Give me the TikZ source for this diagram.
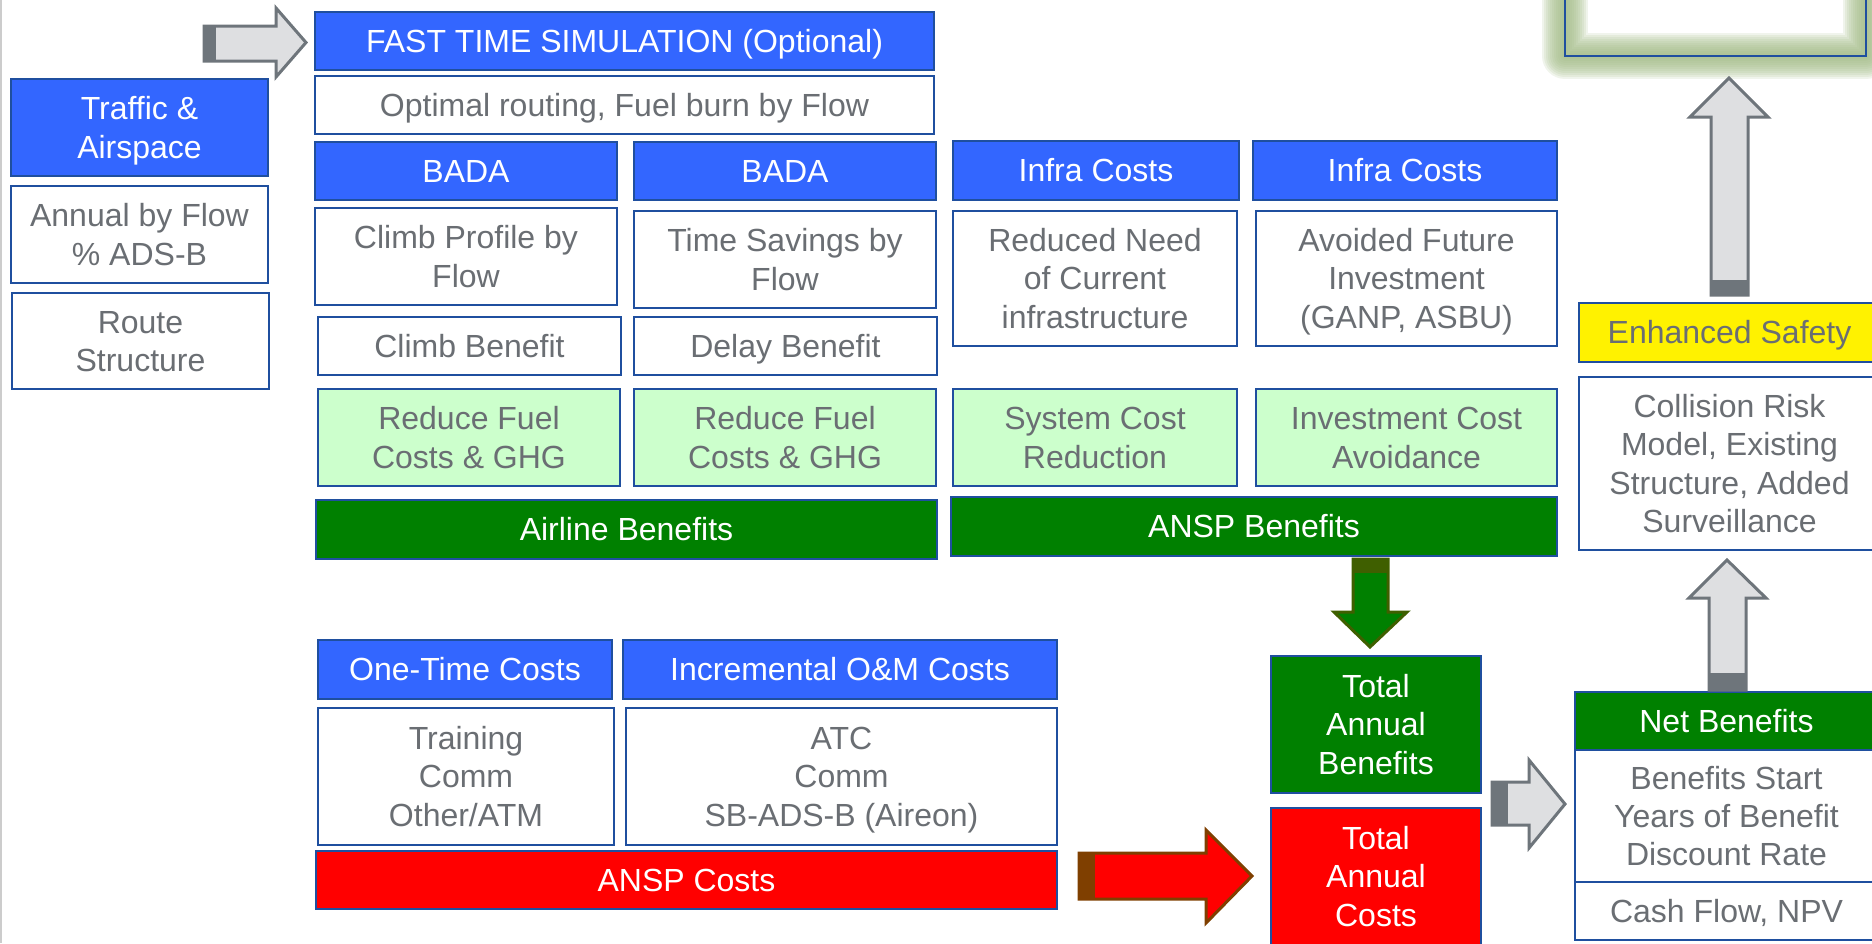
\documentclass[tikz,border=0pt]{standalone}
\usepackage{fontspec}
\setmainfont{Liberation Sans}
\definecolor{hdblue}{HTML}{3366FF}
\definecolor{edgeblue}{HTML}{1F4F9F}
\definecolor{txtgray}{HTML}{6A6E73}
\definecolor{okgreen}{HTML}{008000}
\definecolor{palegreen}{HTML}{CCFFCC}
\definecolor{arrgray}{HTML}{6E757B}
\definecolor{arrfill}{HTML}{DEDFE1}
\definecolor{glowgreen}{HTML}{A2BB86}
\definecolor{arrbrown}{HTML}{7F3F00}
\definecolor{arrolive}{HTML}{3F5F00}
\newsavebox{\cellbx}
% lines of a box, caps centred on the middle
\newcommand{\celltext}[1]{%
  \sbox\cellbx{\begin{tabular}{@{}c@{}}#1\end{tabular}}%
  \raisebox{-1.9pt}[\ht\cellbx][\dp\cellbx]{\usebox\cellbx}}
% box from (x1,y1) to (x2,y2), in pixels of the slide
\newcommand{\cellbox}[7]{%
  \node[#1, minimum width={(#5-#3)*0.5pt}, minimum height={(#6-#4)*0.5pt}]
    (#2) at ({(#3+#5)/2},{(#4+#6)/2}) {\celltext{#7}};}
\tikzset{
  cell/.style={draw=edgeblue, line width=1.2pt, inner sep=2pt,
    font=\fontsize{16}{19.2}\selectfont},
  bluecell/.style={cell, fill=hdblue, text=white},
  whitecell/.style={cell, fill=white, text=txtgray},
  palecell/.style={cell, fill=palegreen, text=txtgray},
  greencell/.style={cell, fill=okgreen, text=white},
  redcell/.style={cell, fill=red, text=white},
  yellowcell/.style={cell, fill=yellow, text=txtgray},
  grayarrow/.style={draw=arrgray, line width=1.5pt, fill=arrfill},
}
\begin{document}
\begin{tikzpicture}[x=0.5pt,y=-0.5pt]
\clip (0,0) rectangle (1872,943);
\draw[gray!40, line width=1pt] (1,0) -- (1,943);
%inputs on the left
\cellbox{bluecell}{traffic}{11}{79}{268}{176}{Traffic \&\\Airspace}
\cellbox{whitecell}{annual}{11}{186}{268}{283}{Annual by Flow\\\% ADS-B}
\cellbox{whitecell}{route}{12}{293}{269}{389}{Route\\Structure}
%simulation
\cellbox{bluecell}{fts}{315}{12}{934}{70}{FAST TIME SIMULATION (Optional)}
\cellbox{whitecell}{optim}{315}{76}{934}{134}{Optimal routing, Fuel burn by Flow}
%airline side
\cellbox{bluecell}{bada1}{315}{142}{617}{200}{BADA}
\cellbox{bluecell}{bada2}{634}{142}{936}{200}{BADA}
\cellbox{whitecell}{climbp}{315}{208}{617}{305}{Climb Profile by\\Flow}
\cellbox{whitecell}{timesv}{634}{211}{936}{308}{Time Savings by\\Flow}
\cellbox{whitecell}{climbb}{318}{317}{621}{375}{Climb Benefit}
\cellbox{whitecell}{delayb}{634}{317}{937}{375}{Delay Benefit}
\cellbox{palecell}{fuel1}{318}{389}{620}{486}{Reduce Fuel\\Costs \& GHG}
\cellbox{palecell}{fuel2}{634}{389}{936}{486}{Reduce Fuel\\Costs \& GHG}
\cellbox{greencell}{airline}{316}{500}{937}{559}{Airline Benefits}
%ANSP side
\cellbox{bluecell}{infra1}{953}{141}{1239}{200}{Infra Costs}
\cellbox{bluecell}{infra2}{1253}{141}{1557}{200}{Infra Costs}
\cellbox{whitecell}{reduced}{953}{211}{1237}{346}{Reduced Need\\of Current\\infrastructure}
\cellbox{whitecell}{avoided}{1256}{211}{1557}{346}{Avoided Future\\Investment\\(GANP, ASBU)}
\cellbox{palecell}{syscost}{953}{389}{1237}{486}{System Cost\\Reduction}
\cellbox{palecell}{invcost}{1256}{389}{1557}{486}{Investment Cost\\Avoidance}
\cellbox{greencell}{anspb}{951}{497}{1557}{556}{ANSP Benefits}
%costs
\cellbox{bluecell}{onetime}{318}{640}{612}{699}{One-Time Costs}
\cellbox{bluecell}{incr}{623}{640}{1057}{699}{Incremental O\&M Costs}
\cellbox{whitecell}{training}{318}{708}{614}{845}{Training\\Comm\\Other/ATM}
\cellbox{whitecell}{atc}{626}{708}{1057}{845}{ATC\\Comm\\SB-ADS-B (Aireon)}
\cellbox{redcell}{anspc}{316}{851}{1057}{909}{ANSP Costs}
%totals
\cellbox{greencell}{totben}{1271}{656}{1481}{793}{Total\\Annual\\Benefits}
\cellbox{redcell}{totcost}{1271}{808}{1481}{945}{Total\\Annual\\Costs}
%right column
\foreach \w in {46,42,...,4}
  \draw[glowgreen, opacity=0.16, line width=\w*0.5pt, line join=round] (1565,-60) rectangle (1866,56);
\cellbox{cell}{topbox}{1565}{-60}{1866}{56}{}
\cellbox{yellowcell}{safety}{1579}{303}{1880}{362}{Enhanced Safety}
\cellbox{whitecell}{collision}{1579}{377}{1880}{550}{Collision Risk\\Model, Existing\\Structure, Added\\Surveillance}
\cellbox{greencell}{netben}{1575}{692}{1878}{750}{Net Benefits}
\cellbox{whitecell}{start}{1575}{750}{1878}{882}{Benefits Start\\Years of Benefit\\Discount Rate}
\cellbox{whitecell}{cash}{1575}{882}{1878}{940}{Cash Flow, NPV}
%block arrows
\draw[grayarrow] (204,26) -- (276,26) -- (276,8) -- (306,42.5) -- (276,77) -- (276,61) -- (204,61) -- cycle;
\fill[arrgray] (204,26) rectangle (216,61);
\draw[grayarrow] (1711,295) -- (1711,117) -- (1690,117) -- (1729,78) -- (1768,117) -- (1748,117) -- (1748,295) -- cycle;
\fill[arrgray] (1711,280) rectangle (1748,295);
\draw[grayarrow] (1709,690) -- (1709,598) -- (1689,598) -- (1727,560) -- (1766,598) -- (1746,598) -- (1746,690) -- cycle;
\fill[arrgray] (1709,673) rectangle (1746,690);
\draw[grayarrow] (1492,782) -- (1529,782) -- (1529,760) -- (1565,804) -- (1529,848) -- (1529,825) -- (1492,825) -- cycle;
\fill[arrgray] (1492,782) rectangle (1508,825);
\draw[draw=arrbrown, line width=1.5pt, fill=red] (1079,853) -- (1206,853) -- (1206,830) -- (1252,876) -- (1206,923) -- (1206,899) -- (1079,899) -- cycle;
\fill[arrbrown] (1079,853) rectangle (1095,899);
\draw[draw=arrolive, line width=1.5pt, fill=okgreen] (1353,559) -- (1388,559) -- (1388,612) -- (1407,612) -- (1370,647) -- (1334,612) -- (1353,612) -- cycle;
\fill[arrolive] (1353,559) rectangle (1388,573);
\end{tikzpicture}
\end{document}
